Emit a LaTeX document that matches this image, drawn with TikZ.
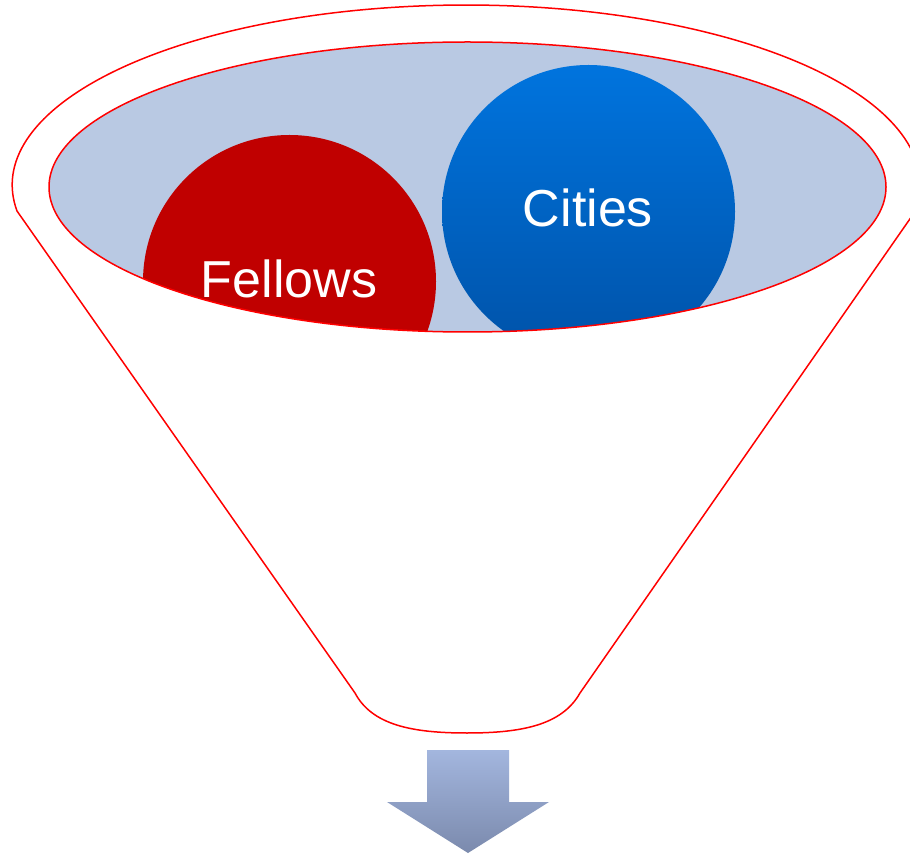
\documentclass[tikz,border=0pt]{standalone}
\usepackage{fontspec}
\setmainfont{Liberation Sans}
\definecolor{funnelred}{RGB}{255,0,0}
\definecolor{innerfill}{RGB}{185,201,227}
\definecolor{fellowred}{RGB}{192,0,0}
\definecolor{citytop}{RGB}{0,116,222}
\definecolor{citybot}{RGB}{0,82,168}
\definecolor{arrowtop}{RGB}{163,182,222}
\definecolor{arrowbot}{RGB}{123,138,173}
\tikzset{
  funnelline/.style={draw=funnelred, line width=1.5pt},
  bubbletext/.style={text=white, font=\fontsize{52}{60}\selectfont, anchor=base, inner sep=0pt}
}
\begin{document}
\begin{tikzpicture}[x=1pt,y=1pt]
\useasboundingbox (0,0) rectangle (910,855);
\clip (0,0) rectangle (910,855);
\fill[white] (0,0) rectangle (910,855);
% outer funnel
\path[funnelline, fill=white] (17,644) arc[start angle=188.3, end angle=-8.3, x radius=454pt, y radius=180pt]
  -- (580,162) .. controls (562,130) and (522,122) .. (467,122)
  .. controls (412,122) and (372,130) .. (355,162) -- cycle;
% inner ellipse contents
\fill[innerfill] (467.5,668) ellipse[x radius=418.5pt, y radius=145pt];
\begin{scope}
  \clip (467.5,668) ellipse[x radius=418.5pt, y radius=145pt];
  \fill[fellowred] (289.5,573.5) circle[radius=146.5pt];
  \shade[top color=citytop, bottom color=citybot] (588.5,643.5) circle[radius=146.5pt];
\end{scope}
\draw[funnelline] (467.5,668) ellipse[x radius=418.5pt, y radius=145pt];
\node[bubbletext] (fellows) at (289,557) {Fellows};
\node[bubbletext] (cities) at (588,628) {Cities};
% arrow
\shade[top color=arrowtop, bottom color=arrowbot] (427,105) -- (509,105) -- (509,53) -- (549,53) -- (468,2) -- (387,53) -- (427,53) -- cycle;
\end{tikzpicture}
\end{document}
